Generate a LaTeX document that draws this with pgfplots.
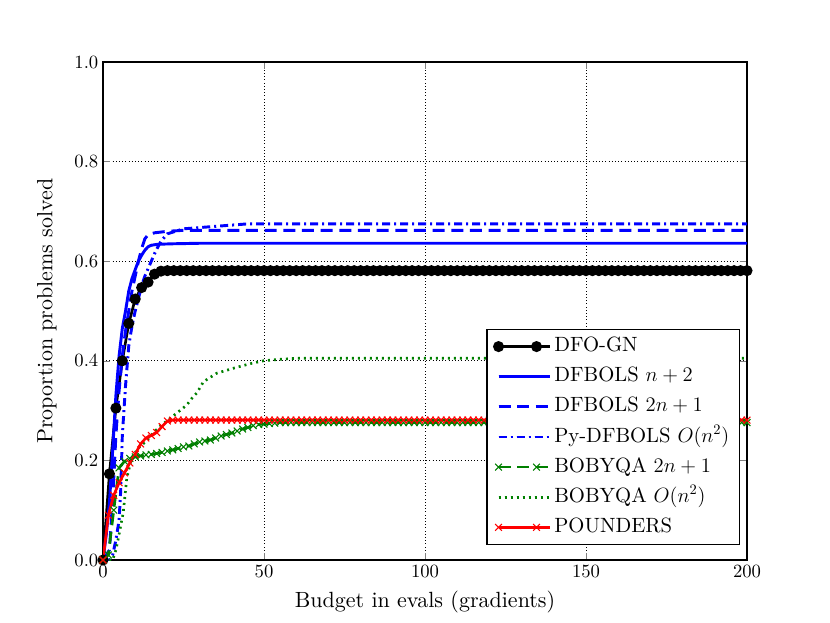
\RequirePackage{fix-cm}
\documentclass[border=0pt]{standalone}
\usepackage{fontspec}
\setmainfont{lmroman10-regular.otf}[BoldFont=lmroman10-bold.otf, ItalicFont=lmroman10-italic.otf]
\usepackage{pgfplots}
\pgfplotsset{compat=1.18}
\usepackage{pgfplotstable}
\definecolor{mplgreen}{rgb}{0,0.5,0}

\pgfplotstableread{
x y
0 0
2 0.173
4 0.305
6 0.400
8 0.475
10 0.524
12 0.547
14 0.558
16 0.574
18 0.580
20 0.581
22 0.581
24 0.581
26 0.581
28 0.581
30 0.581
32 0.581
34 0.581
36 0.581
38 0.581
40 0.581
42 0.581
44 0.581
46 0.581
48 0.581
50 0.581
52 0.581
54 0.581
56 0.581
58 0.581
60 0.581
62 0.581
64 0.581
66 0.581
68 0.581
70 0.581
72 0.581
74 0.581
76 0.581
78 0.581
80 0.581
82 0.581
84 0.581
86 0.581
88 0.581
90 0.581
92 0.581
94 0.581
96 0.581
98 0.581
100 0.581
102 0.581
104 0.581
106 0.581
108 0.581
110 0.581
112 0.581
114 0.581
116 0.581
118 0.581
120 0.581
122 0.581
124 0.581
126 0.581
128 0.581
130 0.581
132 0.581
134 0.581
136 0.581
138 0.581
140 0.581
142 0.581
144 0.581
146 0.581
148 0.581
150 0.581
152 0.581
154 0.581
156 0.581
158 0.581
160 0.581
162 0.581
164 0.581
166 0.581
168 0.581
170 0.581
172 0.581
174 0.581
176 0.581
178 0.581
180 0.581
182 0.581
184 0.581
186 0.581
188 0.581
190 0.581
192 0.581
194 0.581
196 0.581
198 0.581
200 0.581
}\dfogn

\pgfplotstableread{
x red green
0 0 0
1.667 0.090 0.010
3.333 0.130 0.100
5 0.155 0.185
6.667 0.175 0.198
8.333 0.195 0.204
10 0.212 0.207
11.667 0.233 0.209
13.333 0.245 0.211
15 0.250 0.212
16.667 0.256 0.214
18.333 0.268 0.216
20 0.279 0.219
21.667 0.281 0.221
23.333 0.281 0.224
25 0.281 0.227
26.667 0.281 0.229
28.333 0.281 0.233
30 0.281 0.237
31.667 0.281 0.239
33.333 0.281 0.241
35 0.281 0.245
36.667 0.281 0.249
38.333 0.281 0.252
40 0.281 0.255
41.667 0.281 0.259
43.333 0.281 0.263
45 0.281 0.266
46.667 0.281 0.270
48.333 0.281 0.272
50 0.281 0.273
51.667 0.281 0.274
53.333 0.281 0.275
55 0.281 0.276
56.667 0.281 0.276
58.333 0.281 0.276
60 0.281 0.276
61.667 0.281 0.276
63.333 0.281 0.276
65 0.281 0.276
66.667 0.281 0.276
68.333 0.281 0.276
70 0.281 0.276
71.667 0.281 0.276
73.333 0.281 0.276
75 0.281 0.276
76.667 0.281 0.276
78.333 0.281 0.276
80 0.281 0.276
81.667 0.281 0.276
83.333 0.281 0.276
85 0.281 0.276
86.667 0.281 0.276
88.333 0.281 0.276
90 0.281 0.276
91.667 0.281 0.276
93.333 0.281 0.276
95 0.281 0.276
96.667 0.281 0.276
98.333 0.281 0.276
100 0.281 0.276
101.667 0.281 0.276
103.333 0.281 0.276
105 0.281 0.276
106.667 0.281 0.276
108.333 0.281 0.276
110 0.281 0.276
111.667 0.281 0.276
113.333 0.281 0.276
115 0.281 0.276
116.667 0.281 0.276
118.333 0.281 0.276
120 0.281 0.276
121.667 0.281 0.276
123.333 0.281 0.276
125 0.281 0.276
126.667 0.281 0.276
128.333 0.281 0.276
130 0.281 0.276
131.667 0.281 0.276
133.333 0.281 0.276
135 0.281 0.276
136.667 0.281 0.276
138.333 0.281 0.276
140 0.281 0.276
141.667 0.281 0.276
143.333 0.281 0.276
145 0.281 0.276
146.667 0.281 0.276
148.333 0.281 0.276
150 0.281 0.276
151.667 0.281 0.276
153.333 0.281 0.276
155 0.281 0.276
156.667 0.281 0.276
158.333 0.281 0.276
160 0.281 0.276
161.667 0.281 0.276
163.333 0.281 0.276
165 0.281 0.276
166.667 0.281 0.276
168.333 0.281 0.276
170 0.281 0.276
171.667 0.281 0.276
173.333 0.281 0.276
175 0.281 0.276
176.667 0.281 0.276
178.333 0.281 0.276
180 0.281 0.276
181.667 0.281 0.276
183.333 0.281 0.276
185 0.281 0.276
186.667 0.281 0.276
188.333 0.281 0.276
190 0.281 0.276
191.667 0.281 0.276
193.333 0.281 0.276
195 0.281 0.276
196.667 0.281 0.276
198.333 0.281 0.276
200 0.281 0.276
}\rg

\begin{document}
\begin{tikzpicture}
\begin{axis}[
  scale only axis,
  width=483pt, height=373.5pt,
  xmin=0, xmax=200, ymin=0, ymax=1,
  xtick={0,50,100,150,200},
  ytick={0,0.2,0.4,0.6,0.8,1.0},
  /pgf/number format/assume math mode=true,
  yticklabel style={/pgf/number format/.cd,fixed,fixed zerofill,precision=1,assume math mode=true},
  tick label style={font=\fontsize{14}{16}\selectfont},
  label style={font=\fontsize{16.5}{20}\selectfont},
  tick align=inside, tick pos=both,
  major tick length=5pt,
  grid=major,
  major grid style={black, dotted, line width=0.6pt},
  axis line style={line width=1pt},
  xlabel={Budget in evals (gradients)},
  ylabel={Proportion problems solved},
  xlabel style={at={(axis description cs:0.5,-0.084)}, anchor=center},
  ylabel style={at={(axis description cs:-0.087,0.5)}, anchor=center},
  legend style={at={(axis description cs:0.989,0.030)}, anchor=south east,
    draw=black, line width=1pt, font=\fontsize{15.5}{18}\selectfont,
    row sep=3.1pt, inner xsep=5.5pt, inner ysep=3pt,
    nodes={text height=11.6pt, text depth=3.9pt, inner sep=2pt}},
  legend cell align=left,
  legend image code/.code={\draw[#1] plot coordinates {(0pt,0pt) (28.5pt,0pt)};
    \path (0pt,0pt) -- (38.75pt,0pt);},
]
\addplot[black, line width=2pt, mark=*, mark size=3.1pt, mark options={solid}] table[x=x,y=y] {\dfogn};
\addlegendentry{DFO-GN}
\addplot[blue, line width=2.2pt] coordinates {
(0,0) (1,0.05) (2,0.115) (3,0.22) (4,0.33) (5,0.41) (6,0.465) (7,0.50) (8,0.54) (9,0.565) (10,0.583) (11,0.60) (12,0.612) (13,0.622) (14,0.629) (15,0.632) (17,0.634) (22,0.635) (30,0.636) (200,0.636)};
\addlegendentry{DFBOLS $n+2$}
\addplot[blue, line width=2.2pt, dash pattern=on 9pt off 5pt] coordinates {
(0,0) (2,0.02) (3,0.12) (4,0.25) (5,0.34) (6,0.41) (7,0.46) (8,0.50) (9,0.54) (10,0.57) (11,0.60) (12,0.625) (13,0.645) (14,0.653) (16,0.657) (20,0.660) (25,0.662) (200,0.662)};
\addlegendentry{DFBOLS $2n+1$}
\addplot[blue, line width=2.2pt, dash pattern=on 6pt off 3pt on 1.5pt off 3pt] coordinates {
(0,0) (2,0) (3,0.01) (4,0.04) (5,0.08) (5.5,0.14) (6,0.25) (7,0.35) (8,0.43) (9,0.47) (10,0.50) (11,0.525) (12,0.55) (13,0.57) (14,0.585) (15,0.60) (16,0.615) (17,0.628) (18,0.64) (20,0.655) (25,0.665) (35,0.670) (45,0.675) (200,0.675)};
\addlegendentry{Py-DFBOLS $O(n^2)$}
\addplot[mplgreen, line width=2pt, dash pattern=on 9pt off 5pt, mark=x, mark size=3.6pt, mark options={solid, line width=0.8pt}] table[x=x,y=green] {\rg};
\addlegendentry{BOBYQA $2n+1$}
\addplot[mplgreen, line width=2pt, dash pattern=on 1.5pt off 3pt] coordinates {
(0,0) (3,0) (4,0.02) (4.8,0.045) (6.3,0.096) (7.4,0.165) (8.9,0.205) (11,0.225) (13.6,0.24) (16,0.258) (18.2,0.271) (20,0.28) (22.9,0.295) (26,0.311) (28,0.328) (29.1,0.335) (31.2,0.358) (35.3,0.375) (40.5,0.385) (45.6,0.394) (49.8,0.400) (55,0.403) (60,0.405) (200,0.405)};
\addlegendentry{BOBYQA $O(n^2)$}
\addplot[red, line width=2pt, mark=x, mark size=3.6pt, mark options={solid, line width=0.8pt}] table[x=x,y=red] {\rg};
\addlegendentry{POUNDERS}
\coordinate (bl) at (rel axis cs:0,0);
\coordinate (tr) at (rel axis cs:1,1);
\end{axis}
\path (bl) ++(-77.25pt,-47.25pt) coordinate (BL);
\path (tr) ++(62.25pt,46.5pt) coordinate (TR);
\path (BL) rectangle (TR);
\end{tikzpicture}
\end{document}
